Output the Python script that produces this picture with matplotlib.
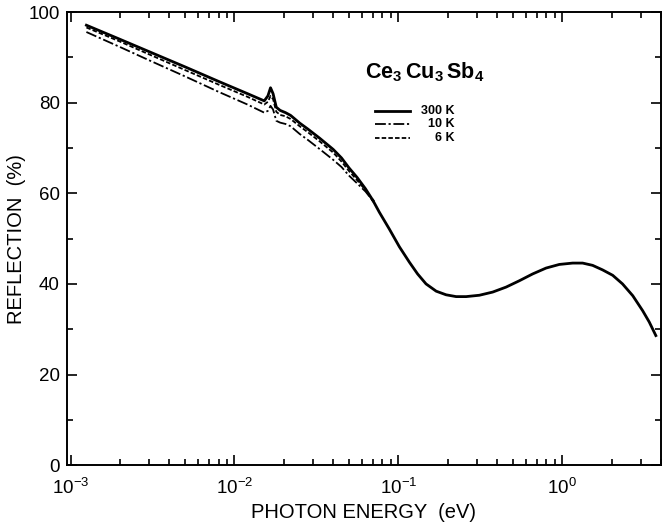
import matplotlib
matplotlib.use("Agg")
import matplotlib.pyplot as plt
from matplotlib.ticker import LogLocator, MultipleLocator, NullFormatter

plt.rcParams['font.family'] = ['Liberation Sans', 'DejaVu Sans']
plt.rcParams['mathtext.fontset'] = 'custom'
plt.rcParams['mathtext.rm'] = 'Liberation Sans'
plt.rcParams['mathtext.bf'] = 'Liberation Sans:bold'
plt.rcParams['axes.unicode_minus'] = False

# photon energy (eV), low-energy part where the three temperatures differ
energy_low = [0.00125, 0.002, 0.003, 0.005, 0.008, 0.012, 0.0152, 0.0160, 0.0166,
              0.0172, 0.0180, 0.0190, 0.0205, 0.0220, 0.025, 0.028, 0.033, 0.040,
              0.045, 0.050, 0.056, 0.063, 0.070]
refl_300K_low = [97.1, 94.0, 91.3, 87.9, 84.7, 82.0, 80.4, 81.5, 83.3,
                 82.0, 79.0, 78.3, 77.8, 77.2, 75.5, 74.2, 72.2, 69.7,
                 67.8, 65.6, 63.5, 61.0, 58.4]
refl_10K_low = [95.6, 92.3, 89.4, 85.8, 82.4, 79.6, 77.8, 78.2, 79.3,
                78.5, 76.0, 75.6, 75.3, 74.8, 73.1, 71.8, 69.8, 67.4,
                65.8, 63.9, 62.2, 60.4, 58.3]
refl_6K_low = [96.6, 93.5, 90.7, 87.2, 84.0, 81.3, 79.6, 80.2, 81.5,
               80.8, 78.0, 77.3, 77.0, 76.4, 74.8, 73.5, 71.5, 69.0,
               67.0, 64.9, 62.9, 60.7, 58.4]

# high-energy part, all curves coincide
energy_high = [0.070, 0.0766, 0.0881, 0.1014, 0.1167, 0.131, 0.1475, 0.170, 0.1954,
               0.225, 0.259, 0.312, 0.376, 0.454, 0.547, 0.659, 0.796, 0.959,
               1.157, 1.33, 1.53, 1.76, 2.03, 2.33, 2.69, 3.09, 3.39, 3.72]
refl_high = [58.4, 55.8, 52.1, 48.2, 44.8, 42.2, 40.0, 38.4, 37.6,
             37.2, 37.2, 37.5, 38.2, 39.3, 40.7, 42.2, 43.5, 44.3,
             44.6, 44.6, 44.1, 43.1, 41.9, 40.0, 37.4, 34.1, 31.6, 28.6]

legend_labels = ['300 K', '10 K', '6 K']

fig = plt.figure(figsize=(6.62, 5.25), dpi=100)
ax = fig.add_axes([0.101, 0.114, 0.8975, 0.863])

dashdot = (0, (6, 1.5, 1.2, 1.5))
dotted = (0, (2.5, 1.2))
ax.plot(energy_low, refl_10K_low, color='black', lw=1.3, linestyle=dashdot)
ax.plot(energy_low, refl_6K_low, color='black', lw=1.3, linestyle=dotted)
ax.plot(energy_low, refl_300K_low, color='black', lw=2.0, solid_joinstyle='round')
ax.plot(energy_high, refl_high, color='black', lw=2.0, solid_joinstyle='round')

ax.set_xscale('log')
ax.set_xlim(0.95e-3, 4.0)
ax.set_ylim(0, 100)
ax.xaxis.set_major_locator(LogLocator(base=10, numticks=10))
ax.xaxis.set_minor_locator(LogLocator(base=10, subs=range(2, 10), numticks=20))
ax.xaxis.set_minor_formatter(NullFormatter())
ax.yaxis.set_major_locator(MultipleLocator(20))
ax.yaxis.set_minor_locator(MultipleLocator(10))

ax.tick_params(which='both', direction='in', top=True, right=True, labelsize=13.5, width=1.2)
ax.tick_params(which='major', length=7)
ax.tick_params(which='minor', length=4)
ax.tick_params(axis='x', which='major', pad=9)
ax.tick_params(axis='y', which='major', pad=5)
for s in ax.spines.values():
    s.set_linewidth(1.4)

ax.set_xlabel('PHOTON ENERGY  (eV)', fontsize=14.5)
ax.set_ylabel('REFLECTION  (%)', fontsize=14.5)
ax.xaxis.set_label_coords(0.5, -0.084)
ax.yaxis.set_label_coords(-0.069, 0.5)

# legend drawn like the original figure: short sample lines and right-aligned labels
ax.text(0.603, 0.868, r'$\mathbf{Ce_3\,Cu_3\,Sb_4}$', transform=ax.transAxes,
        ha='center', va='center', fontsize=15.5)
styles = [dict(lw=2.0, linestyle='-'),
          dict(lw=1.3, linestyle=dashdot),
          dict(lw=1.3, linestyle=dotted)]
rows = [0.781, 0.752, 0.722]
for lab, st, yy in zip(legend_labels, styles, rows):
    ax.plot([0.519, 0.577], [yy, yy], color='black', transform=ax.transAxes, **st)
    ax.text(0.653, yy, lab, transform=ax.transAxes, ha='right', va='center',
            fontsize=9, fontweight='bold')

fig.savefig('out.png', dpi=100)
